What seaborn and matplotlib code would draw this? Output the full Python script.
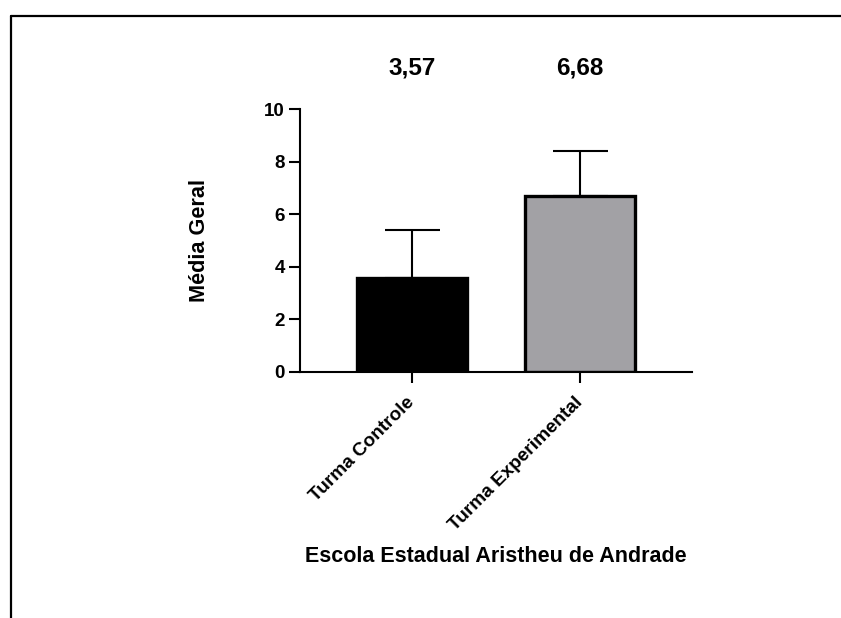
import matplotlib
matplotlib.use("Agg")
import matplotlib.pyplot as plt
import matplotlib.transforms as mtransforms
from matplotlib.lines import Line2D
import numpy as np
import pandas as pd
import seaborn as sns

# ---- data ----
categories = ["Turma Controle", "Turma Experimental"]
means = [3.57, 6.68]
sds = [1.83, 1.71]
bar_colors = ["#000000", "#A2A1A5"]
yticks = [0, 2, 4, 6, 8, 10]
xlabel = "Escola Estadual Aristheu de Andrade"
ylabel = "Média Geral"

sns.set_style("ticks")
plt.rcParams["font.family"] = ["Liberation Sans", "DejaVu Sans"]
plt.rcParams["font.weight"] = "bold"
for k in ["text.color", "axes.labelcolor", "xtick.color", "ytick.color",
          "axes.edgecolor"]:
    plt.rcParams[k] = "black"

fig = plt.figure(figsize=(8.41, 6.18), dpi=100)
ax = fig.add_axes([300 / 841, 1 - 372 / 618, 392 / 841, 263 / 618])

df = pd.DataFrame({"grupo": categories, "media": means})
sns.barplot(data=df, x="grupo", y="media", hue="grupo", palette=bar_colors,
            legend=False, width=0.65, edgecolor="black", linewidth=2.4,
            saturation=1, ax=ax, zorder=2)

pos = np.arange(len(categories))
ax.errorbar(pos, means, yerr=[np.zeros(len(means)), sds], fmt="none",
            ecolor="black", elinewidth=1.5, capsize=19.8, capthick=1.5,
            zorder=1)

ax.set_xlim(-0.667, 1.667)
ax.set_ylim(0, 10)
ax.set_yticks(yticks)
ax.set_yticklabels([str(t) for t in yticks], fontsize=13.5, fontweight="bold",
                   color="black")
ax.set_xticks(pos)
ax.set_xticklabels(categories, fontsize=13.7, fontweight="bold", rotation=45,
                   ha="right", va="center", rotation_mode="anchor",
                   color="black")

ax.tick_params(axis="y", length=8, width=1.5, pad=3, color="black")
ax.tick_params(axis="x", length=8, width=1.5, pad=12, color="black")
sns.despine(ax=ax)
for s in ["left", "bottom"]:
    ax.spines[s].set_linewidth(1.5)
    ax.spines[s].set_color("black")

ax.set_xlabel(xlabel, fontsize=15.5, fontweight="bold", labelpad=9,
              color="black")
ax.set_ylabel(ylabel, fontsize=15.6, fontweight="bold", labelpad=39,
              color="black")

trans = mtransforms.blended_transform_factory(ax.transData, ax.transAxes)
for i, v in enumerate(means):
    ax.text(i, 1.156, f"{v:.2f}".replace(".", ","), transform=trans,
            ha="center", va="center", fontsize=17.5, fontweight="bold",
            color="black")

# outer frame (top and left only)
fx = 11 / 841
fy = 1 - 16 / 618
fig.add_artist(Line2D([fx, 1.0], [fy, fy], transform=fig.transFigure,
                      color="black", linewidth=1.6))
fig.add_artist(Line2D([fx, fx], [0.0, fy], transform=fig.transFigure,
                      color="black", linewidth=1.6))

fig.savefig("out.png", dpi=100, facecolor="white")
